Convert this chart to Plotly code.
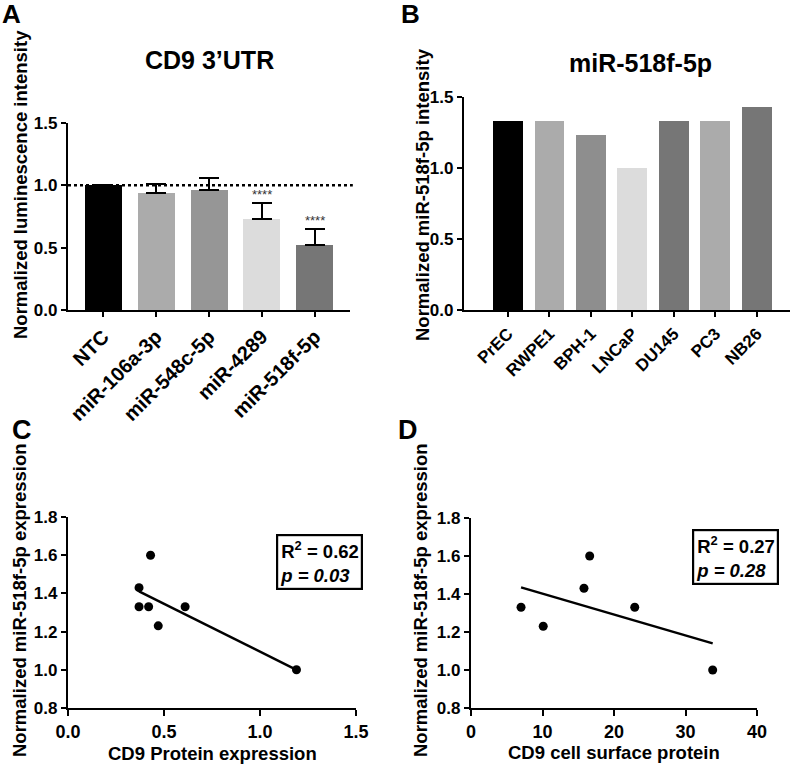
import plotly.graph_objects as go

W, H = 793, 765

# panel A: CD9 3'UTR luciferase
a_labels = ['NTC', 'miR-106a-3p', 'miR-548c-5p', 'miR-4289', 'miR-518f-5p']
a_values = [1.0, 0.94, 0.96, 0.73, 0.52]
a_err = [0.0, 0.07, 0.10, 0.13, 0.13]
a_sig = ['', '', '', '****', '****']
a_colors = ['#000000', '#ababab', '#969696', '#dcdcdc', '#767676']

# panel B: miR-518f-5p per cell line
b_labels = ['PrEC', 'RWPE1', 'BPH-1', 'LNCaP', 'DU145', 'PC3', 'NB26']
b_values = [1.33, 1.33, 1.23, 1.0, 1.33, 1.33, 1.43]
b_colors = ['#000000', '#ababab', '#8e8e8e', '#dcdcdc', '#767676', '#ababab', '#767676']

# panel C: vs CD9 protein expression
c_x = [0.37, 0.43, 0.37, 0.42, 0.61, 0.47, 1.19]
c_y = [1.43, 1.60, 1.33, 1.33, 1.33, 1.23, 1.0]
c_fit_x = [0.37, 1.19]
c_fit_y = [1.41, 1.0]

# panel D: vs CD9 cell surface protein
d_x = [7.0, 10.1, 15.8, 16.6, 22.9, 33.8]
d_y = [1.33, 1.23, 1.43, 1.60, 1.33, 1.0]
d_fit_x = [7.0, 33.8]
d_fit_y = [1.435, 1.14]

FONT = 'Liberation Sans, Arial, sans-serif'


def px_x(v):
    return v / W


def px_y(v):
    return 1 - v / H


def axis_style(size=17, **kw):
    base = dict(
        showline=True, linecolor='black', linewidth=2.2,
        ticks='outside', ticklen=5, tickwidth=2.2, tickcolor='black',
        showgrid=False, zeroline=False, mirror=False,
        tickfont=dict(family=FONT, size=size, color='black', weight='bold'),
    )
    base.update(kw)
    return base


fig = go.Figure()

fig.add_trace(go.Bar(
    x=list(range(len(a_labels))), y=a_values, width=0.7,
    marker=dict(color=a_colors, line=dict(width=0)),
    error_y=dict(type='data', symmetric=False, array=a_err,
                 arrayminus=[0] * len(a_err), color='black', thickness=2.2, width=10),
    xaxis='x', yaxis='y', showlegend=False,
))

fig.add_trace(go.Bar(
    x=list(range(len(b_labels))), y=b_values, width=0.72,
    marker=dict(color=b_colors, line=dict(width=0)),
    xaxis='x2', yaxis='y2', showlegend=False,
))

fig.add_trace(go.Scatter(
    x=c_fit_x, y=c_fit_y, mode='lines', line=dict(color='black', width=2.5),
    xaxis='x3', yaxis='y3', showlegend=False,
))
fig.add_trace(go.Scatter(
    x=c_x, y=c_y, mode='markers', marker=dict(color='black', size=9),
    xaxis='x3', yaxis='y3', showlegend=False,
))

fig.add_trace(go.Scatter(
    x=d_fit_x, y=d_fit_y, mode='lines', line=dict(color='black', width=2.5),
    xaxis='x4', yaxis='y4', showlegend=False,
))
fig.add_trace(go.Scatter(
    x=d_x, y=d_y, mode='markers', marker=dict(color='black', size=9),
    xaxis='x4', yaxis='y4', showlegend=False,
))

fig.update_layout(
    width=W, height=H, margin=dict(l=0, r=0, t=0, b=0),
    template='none', paper_bgcolor='white', plot_bgcolor='rgba(0,0,0,0)',
    font=dict(family=FONT, color='black'),
    bargap=0,
    xaxis=axis_style(20, domain=[px_x(68), px_x(350)], anchor='y', range=[-0.667, 4.667],
                     tickvals=list(range(len(a_labels))), ticktext=a_labels, tickangle=-45),
    yaxis=axis_style(domain=[px_y(310), px_y(123)], anchor='x', range=[0, 1.5],
                     tickvals=[0, 0.5, 1.0, 1.5], tickformat='.1f'),
    xaxis2=axis_style(17, domain=[px_x(464), px_x(790)], anchor='y2', range=[-1.06, 6.8],
                      tickvals=list(range(len(b_labels))), ticktext=b_labels, tickangle=-45),
    yaxis2=axis_style(domain=[px_y(310), px_y(97)], anchor='x2', range=[0, 1.5],
                      tickvals=[0, 0.5, 1.0, 1.5], tickformat='.1f'),
    xaxis3=axis_style(18, domain=[px_x(68), px_x(356)], anchor='y3', range=[0, 1.5],
                      tickvals=[0, 0.5, 1.0, 1.5], tickformat='.1f', ticklen=6),
    yaxis3=axis_style(domain=[px_y(708), px_y(517)], anchor='x3', range=[0.8, 1.8],
                      tickvals=[0.8, 1.0, 1.2, 1.4, 1.6, 1.8], tickformat='.1f'),
    xaxis4=axis_style(18, domain=[px_x(471), px_x(757)], anchor='y4', range=[0, 40],
                      tickvals=[0, 10, 20, 30, 40], ticklen=6),
    yaxis4=axis_style(domain=[px_y(708), px_y(518)], anchor='x4', range=[0.8, 1.8],
                      tickvals=[0.8, 1.0, 1.2, 1.4, 1.6, 1.8], tickformat='.1f'),
)

# dotted reference line at 1.0 in panel A
fig.add_shape(type='line', xref='x domain', yref='y', x0=0, x1=1.01, y0=1.0, y1=1.0,
              line=dict(color='black', width=2.5, dash='dot'))

# significance stars
for i, s in enumerate(a_sig):
    if s:
        fig.add_annotation(x=i, y=a_values[i] + a_err[i], xref='x', yref='y', text=s,
                           showarrow=False, yanchor='bottom', yshift=-1,
                           font=dict(family=FONT, size=13, color='#333333'))


def paper_text(x, y, text, size, angle=0, **kw):
    fig.add_annotation(x=px_x(x), y=px_y(y), xref='paper', yref='paper', text=text,
                       showarrow=False, textangle=angle, xanchor='center', yanchor='middle',
                       font=dict(family=FONT, size=size, color='black', weight='bold'), **kw)


# panel letters
paper_text(11, 14, 'A', 26)
paper_text(411, 14, 'B', 26)
paper_text(22, 430, 'C', 27)
paper_text(408, 430, 'D', 27)

# titles
paper_text(210, 60, 'CD9 3\u2019UTR', 25)
paper_text(640, 63, 'miR-518f-5p', 25)

# axis titles
paper_text(20, 185, 'Normalized luminescence intensity', 18.5, angle=-90)
paper_text(422, 195, 'Normalized miR-518f-5p intensity', 18.5, angle=-90)
paper_text(19, 600, 'Normalized miR-518f-5p expression', 18.5, angle=-90)
paper_text(420, 600, 'Normalized miR-518f-5p expression', 18.5, angle=-90)
paper_text(212, 753, 'CD9 Protein expression', 18.5)
paper_text(614, 752, 'CD9 cell surface protein', 18.5)

# stats boxes
for x0, y0, r2, p in [(276, 534, '0.62', '0.03'), (692, 529, '0.27', '0.28')]:
    fig.add_annotation(
        x=px_x(x0), y=px_y(y0), xref='paper', yref='paper', xanchor='left', yanchor='top',
        text=f'R<sup>2</sup> = {r2}<br><i>p = {p}</i>', showarrow=False, align='left',
        bordercolor='black', borderwidth=2.2, borderpad=2, bgcolor='white',
        font=dict(family=FONT, size=18.5, color='black', weight='bold'),
    )

fig.write_html('out.html', config={'displayModeBar': False},
               post_script="document.body.style.margin='0';")
